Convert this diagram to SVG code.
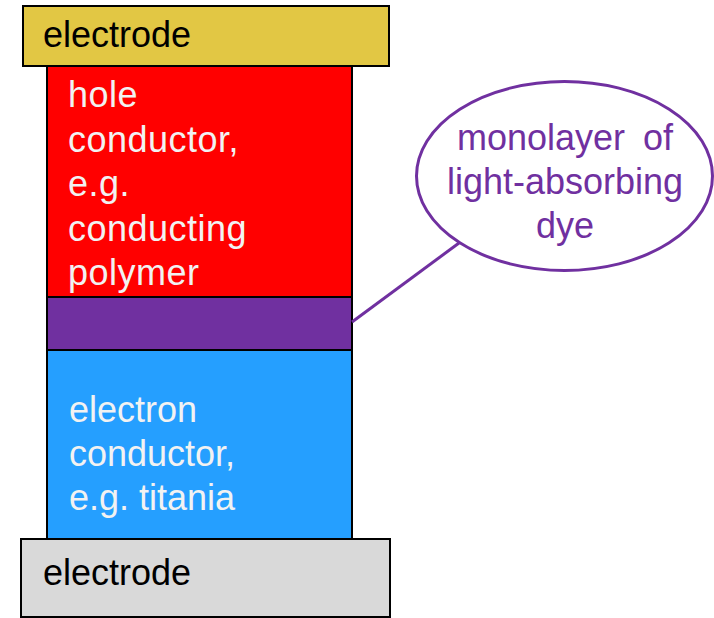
<svg xmlns="http://www.w3.org/2000/svg" width="714" height="618" viewBox="0 0 714 618">
<style>
.layer{stroke:#000;stroke-width:2}
.t{font-family:"Liberation Sans",Arial,sans-serif;font-size:36px}
.dark{fill:#000}
.light{fill:#F2F2F2}
.dye{fill:#7030A0}
</style>
<rect width="714" height="618" fill="#fff"/>
<g id="hole-conductor">
<rect class="layer" x="47" y="66" width="305" height="231" fill="#FF0000"/>
<text class="t light" letter-spacing="0.5"><tspan x="68" y="107">hole</tspan><tspan x="68" y="151.5">conductor,</tspan><tspan x="68" y="196">e.g.</tspan><tspan x="68" y="240.5">conducting</tspan><tspan x="68" y="285">polymer</tspan></text>
</g>
<g id="dye-layer">
<rect class="layer" x="47" y="297" width="305" height="53" fill="#7030A0"/>
</g>
<g id="electron-conductor">
<rect class="layer" x="47" y="350" width="305" height="189" fill="#259FFF"/>
<text class="t light"><tspan x="69" y="421.5">electron</tspan><tspan x="69" y="465.5">conductor,</tspan><tspan x="69" y="510">e.g. titania</tspan></text>
</g>
<g id="top-electrode">
<rect class="layer" x="23" y="6" width="366" height="60" fill="#E2C744"/>
<text class="t dark" x="43" y="47">electrode</text>
</g>
<g id="bottom-electrode">
<rect class="layer" x="21" y="539" width="369" height="78" fill="#D9D9D9"/>
<text class="t dark" x="43" y="585">electrode</text>
</g>
<g id="connectors">
<line x1="352" y1="322" x2="459" y2="243" stroke="#7030A0" stroke-width="3"/>
</g>
<g id="dye-callout">
<ellipse cx="564.5" cy="176" rx="148" ry="94.5" fill="#fff" stroke="#7030A0" stroke-width="3"/>
<text class="t dye" text-anchor="middle"><tspan x="565" y="150" word-spacing="8">monolayer of</tspan><tspan x="565" y="194">light-absorbing</tspan><tspan x="565" y="238">dye</tspan></text>
</g>
</svg>
